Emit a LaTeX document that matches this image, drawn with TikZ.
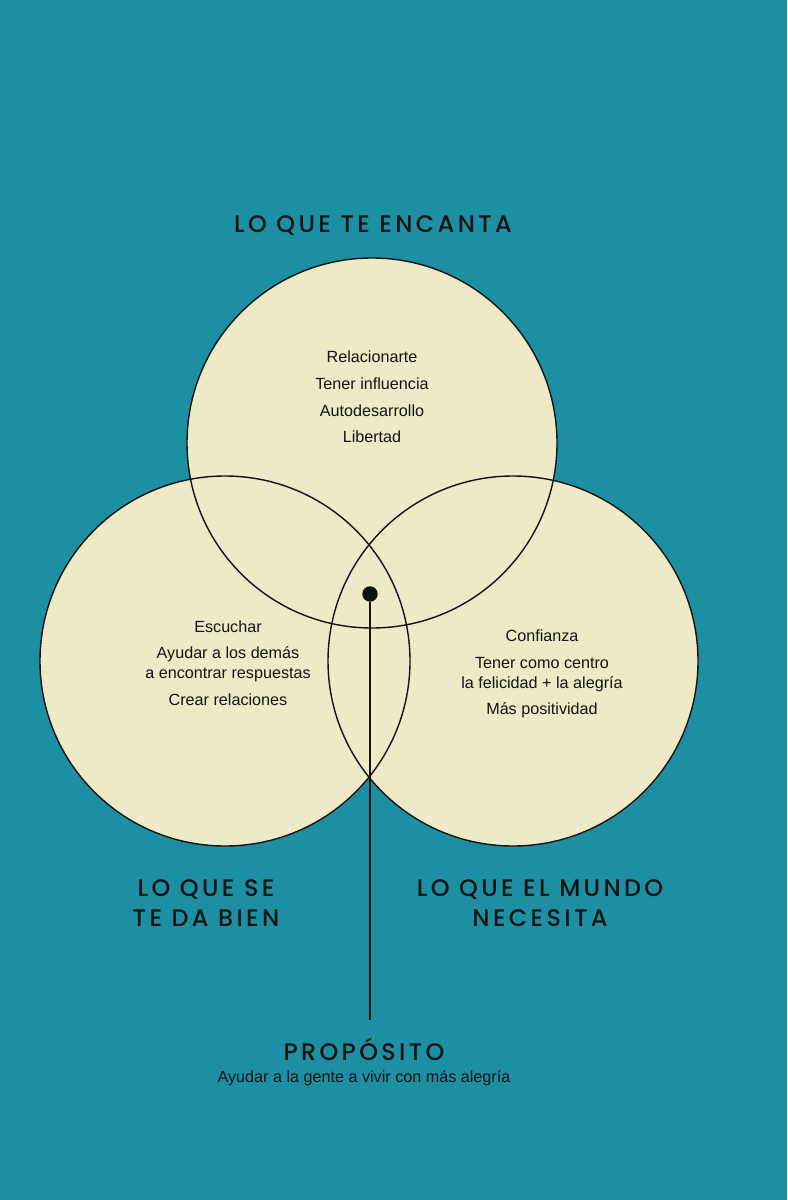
\documentclass[tikz,border=0pt]{standalone}
\usepackage{fontspec}
\setmainfont{Liberation Sans}
\newfontfamily\headfont[LetterSpace=14]{Poppins Medium}
\usetikzlibrary{positioning}
\definecolor{tealBg}{RGB}{29,143,163}
\definecolor{creamFill}{RGB}{238,233,198}
\definecolor{inkDark}{RGB}{20,20,20}

\begin{document}
\begin{tikzpicture}[x=0.025cm, y=-0.025cm,
    head/.style={font=\headfont\fontsize{17}{21}\selectfont, text=inkDark, align=center},
    item/.style={font=\fontsize{11.5}{22}\selectfont, text=inkDark, align=center},
    ring/.style={draw=inkDark, line width=1pt}
]
\fill[tealBg] (0,0) rectangle (787,1200);
\useasboundingbox (0,0) rectangle (787,1200);

% circles
\foreach \cx/\cy in {372/443, 225/661, 513/661}
    \fill[creamFill] (\cx,\cy) circle (185);
\draw[ring] (372,443) circle (185);
\draw[ring] (225,661) circle (185);
\draw[ring] (513,661) circle (185);

% centre marker and stem
\node[circle, fill=inkDark, inner sep=0pt, minimum size=11pt] (core) at (370,594) {};
\coordinate (stemEnd) at (370,1020);
\draw[inkDark, line width=1pt] (core) -- (stemEnd);

% headings
\node[head] (love) at (373,226) {LO QUE TE ENCANTA};
\node[head] (good) at (206,903) {LO QUE SE\\TE DA BIEN};
\node[head] (world) at (540,903) {LO QUE EL MUNDO\\NECESITA};
\node[head] (purpose) at (364,1049) {PROPÓSITO};
\node[item, below=0pt of purpose] (purposeText) {Ayudar a la gente a vivir con más alegría};

% contents
\node[item] (loveList) at (372,397) {Relacionarte\\[-3pt]Tener influencia\\[-3pt]Autodesarrollo\\[-3pt]Libertad};
\node[item] (goodList) at (228,663) {Escuchar\\[-3pt]Ayudar a los demás\\[-8pt]a encontrar respuestas\\[-3pt]Crear relaciones};
\node[item] (worldList) at (542,674) {Confianza\\[-3pt]Tener como centro\\[-8pt]la felicidad + la alegría\\[-3pt]Más positividad};
\end{tikzpicture}
\end{document}
